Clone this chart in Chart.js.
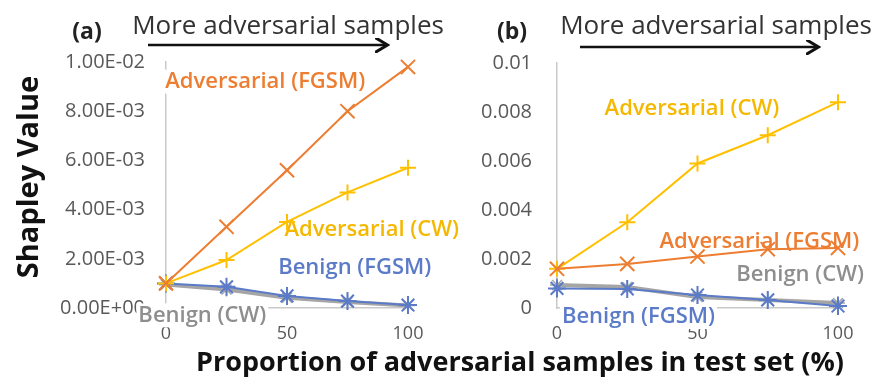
<!DOCTYPE html>
<html>
<head>
<meta charset="utf-8">
<script src="https://cdn.jsdelivr.net/npm/chart.js@4.4.1/dist/chart.umd.min.js"></script>
<style>
  body { margin: 0; background: #fff; font-family: 'Open Sans', sans-serif; }
  #wrap { position: relative; width: 874px; height: 381px; overflow: hidden; }
  canvas { position: absolute; top: 0; }
  .txt { position: absolute; white-space: nowrap; line-height: 1; transform: translate(-50%, -50%); }
  .panel { font-weight: bold; font-size: 23px; color: #222; }
  .more { font-size: 26px; color: #333; }
  .xtitle { font-weight: bold; font-size: 27px; color: #111; left: 520px; top: 360px; }
  .ytitle { font-weight: bold; font-size: 29px; color: #111; left: 26px; top: 177px;
            transform: translate(-50%, -50%) rotate(-90deg); }
  svg { position: absolute; left: 0; top: 0; }
</style>
</head>
<body>
<div id="wrap">
  <canvas id="chart-a" width="470" height="350" style="left:0"></canvas>
  <canvas id="chart-b" width="434" height="350" style="left:440px"></canvas>

  <div class="txt panel" style="left:87px; top:30px">(a)</div>
  <div class="txt more" style="left:288px; top:24px">More adversarial samples</div>
  <div class="txt panel" style="left:512px; top:30px">(b)</div>
  <div class="txt more" style="left:716px; top:24px">More adversarial samples</div>

  <svg width="874" height="381">
    <defs>
      <marker id="head" markerWidth="6" markerHeight="6" refX="4" refY="3" orient="auto">
        <path d="M0,0 L5,3 L0,6" fill="none" stroke="#111" stroke-width="1.2"/>
      </marker>
    </defs>
    <line x1="148" y1="45" x2="385" y2="45" stroke="#111" stroke-width="2.5" marker-end="url(#head)"/>
    <line x1="580" y1="47" x2="816" y2="47" stroke="#111" stroke-width="2.5" marker-end="url(#head)"/>
  </svg>

  <div class="txt ytitle">Shapley Value</div>
  <div class="txt xtitle">Proportion of adversarial samples in test set (%)</div>
</div>

<script>
Chart.defaults.font.family = 'Open Sans';
Chart.defaults.font.size = 18;
Chart.defaults.color = '#595959';

// x: proportion of adversarial samples (%)
var xValues = [0, 25, 50, 75, 100];
var xTickLabels = ['0', '50', '100'];

// (a) values
var advFgsmA = [0.00100, 0.00330, 0.00560, 0.00800, 0.00980];
var advCwA = [0.00100, 0.00195, 0.00350, 0.00470, 0.00570];
var benFgsmA = [0.00100, 0.00086, 0.00049, 0.00028, 0.00012];
var benCwA = [0.00095, 0.00075, 0.00042, 0.00024, 0.00010];
var yTickLabelsA = ['0.00E+00', '2.00E-03', '4.00E-03', '6.00E-03', '8.00E-03', '1.00E-02'];

// (b) values
var advFgsmB = [0.00160, 0.00180, 0.00210, 0.00240, 0.00245];
var advCwB = [0.00160, 0.00350, 0.00590, 0.00705, 0.00840];
var benFgsmB = [0.00080, 0.00078, 0.00053, 0.00033, 0.00008];
var benCwB = [0.00094, 0.00086, 0.00045, 0.00033, 0.00020];
var yTickLabelsB = ['0', '0.002', '0.004', '0.006', '0.008', '0.01'];

var colors = {
    advFgsm: '#ED7D31',
    advCw: '#FFC000',
    benFgsm: '#5B7BC9',
    benCw: '#A5A5A5'
};

function points(ys) {
    return xValues.map(function (x, i) { return { x: x, y: ys[i] }; });
}

function makeDatasets(advFgsm, advCw, benFgsm, benCw) {
    return [
        {
            label: 'Adversarial (FGSM)', data: points(advFgsm),
            borderColor: colors.advFgsm, backgroundColor: colors.advFgsm,
            borderWidth: 2, pointStyle: 'crossRot', pointRadius: 10, pointBorderWidth: 2
        },
        {
            label: 'Adversarial (CW)', data: points(advCw),
            borderColor: colors.advCw, backgroundColor: colors.advCw,
            borderWidth: 2, pointStyle: 'cross', pointRadius: 8, pointBorderWidth: 2
        },
        {
            label: 'Benign (FGSM)', data: points(benFgsm),
            borderColor: colors.benFgsm, backgroundColor: colors.benFgsm,
            borderWidth: 2, pointStyle: 'star', pointRadius: 9, pointBorderWidth: 2
        },
        {
            label: 'Benign (CW)', data: points(benCw),
            borderColor: colors.benCw, backgroundColor: colors.benCw,
            borderWidth: 4, pointStyle: 'star', pointRadius: 7, pointBorderWidth: 1.5
        }
    ];
}

// text labels next to the series, placed in data units
var seriesLabels = {
    id: 'seriesLabels',
    beforeDatasetsDraw: function (chart, args, opts) {
        var ctx = chart.ctx;
        var sx = chart.scales.x, sy = chart.scales.y;
        ctx.save();
        ctx.font = '600 22px "Open Sans"';
        ctx.textAlign = 'center';
        ctx.textBaseline = 'middle';
        opts.items.forEach(function (it) {
            var px = sx.getPixelForValue(it.x);
            var py = sy.getPixelForValue(it.y);
            var w = ctx.measureText(it.text).width;
            ctx.fillStyle = '#fff';
            ctx.fillRect(px - w / 2 - 2, py - 12, w + 4, 24);
            ctx.fillStyle = it.color;
            ctx.fillText(it.text, px, py);
        });
        ctx.restore();
    }
};

function makeOptions(padTop, padRight, yWidth, yPad, yLabels, labels) {
    return {
        responsive: false,
        animation: false,
        layout: { padding: { top: padTop, right: padRight, left: 0, bottom: 0 } },
        plugins: {
            legend: { display: false },
            tooltip: { enabled: false },
            seriesLabels: { items: labels }
        },
        elements: { line: { tension: 0 } },
        datasets: { line: { clip: false } },
        scales: {
            x: {
                type: 'linear', min: 0, max: 100,
                grid: { display: true, color: 'transparent', drawTicks: false },
                border: { display: true, color: '#C9C9C9', width: 1.5 },
                ticks: {
                    stepSize: 50, padding: 15, maxRotation: 0,
                    callback: function (v) { return xTickLabels[Math.round(v / 50)]; }
                },
                afterFit: function (s) { s.height = 42; }
            },
            y: {
                min: 0, max: 0.01,
                grid: { display: true, color: 'transparent', drawTicks: false },
                border: { display: true, color: '#C9C9C9', width: 1.5 },
                ticks: {
                    stepSize: 0.002, padding: yPad, font: { size: 20 },
                    callback: function (v) { return yLabels[Math.round(v / 0.002)]; }
                },
                afterFit: function (s) { s.width = yWidth; }
            }
        }
    };
}

// (a)
new Chart(document.getElementById('chart-a'), {
    type: 'line',
    data: { datasets: makeDatasets(advFgsmA, advCwA, benFgsmA, benCwA) },
    options: makeOptions(62, 62, 166, 21, yTickLabelsA, [
        { text: 'Adversarial (FGSM)', x: 41, y: 0.0092, color: colors.advFgsm },
        { text: 'Adversarial (CW)', x: 85, y: 0.0032, color: '#F5B800' },
        { text: 'Benign (FGSM)', x: 78, y: 0.00163, color: colors.benFgsm },
        { text: 'Benign (CW)', x: 15, y: -0.0003, color: '#8E8E8E' }
    ]),
    plugins: [seriesLabels]
});

// (b)
new Chart(document.getElementById('chart-b'), {
    type: 'line',
    data: { datasets: makeDatasets(advFgsmB, advCwB, benFgsmB, benCwB) },
    options: makeOptions(63, 36, 117, 25, yTickLabelsB, [
        { text: 'Adversarial (CW)', x: 48, y: 0.00815, color: '#F5B800' },
        { text: 'Adversarial (FGSM)', x: 72, y: 0.0027, color: colors.advFgsm },
        { text: 'Benign (CW)', x: 86.5, y: 0.00134, color: '#8E8E8E' },
        { text: 'Benign (FGSM)', x: 29, y: -0.00037, color: colors.benFgsm }
    ]),
    plugins: [seriesLabels]
});
</script>
</body>
</html>
